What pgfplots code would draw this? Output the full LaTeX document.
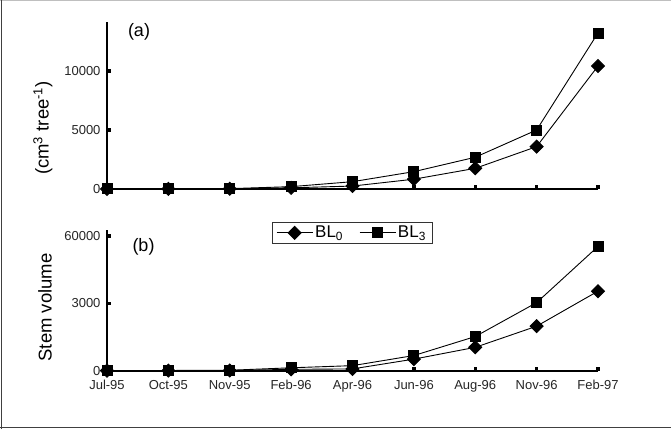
\documentclass[border=0pt]{standalone}
\usepackage{pgfplots}
\pgfplotsset{compat=1.18}
\usepackage{fontspec}
\setmainfont{Liberation Sans}
\begin{document}
\begin{tikzpicture}[x=1pt,y=1pt]
\useasboundingbox (0,0) rectangle (671,429);
\fill[white] (0,0) rectangle (671,429);
\draw[black!25, line width=1pt] (0,428.5) -- (671,428.5);
\draw[black!75, line width=1.2pt] (1.5,0) -- (1.5,429);
\draw[black!75, line width=1.2pt] (0,1.5) -- (671,1.5);

\pgfplotsset{
  myaxis/.style={
    scale only axis, width=491pt, anchor=south west,
    xmin=0, xmax=8, clip=false,
    axis x line*=bottom, axis y line*=left,
    axis line style={line width=2.4pt, -},
    xtick={0,...,8},
    scaled y ticks=false, scaled x ticks=false,
    tick align=inside, major tick length=4pt,
    tick style={line width=3.5pt, black},
    ticklabel style={font=\fontsize{13}{15}\selectfont, text=black!85},
    yticklabel style={xshift=-3pt},
    every axis plot/.append style={black, line width=0.9pt},
    legend image code/.code={\draw[mark repeat=2,mark phase=2] plot coordinates {(0pt,0pt)(18pt,0pt)(36pt,0pt)};},
  },
  dia/.style={mark=square*, mark size=4.6pt, mark options={rotate=45, solid, fill=black}},
  sq/.style={mark=square*, mark size=5pt, mark options={solid, fill=black}},
}

\begin{axis}[myaxis, at={(107pt,240pt)}, height=167pt,
  ymin=0, ymax=14150, ytick={0,5000,10000}, yticklabels={0,5000,10000},
  xticklabels={}]
\addplot[dia] coordinates {(0,5) (1,10) (2,20) (3,100) (4,250) (5,830) (6,1750) (7,3590) (8,10420)};
\addplot[sq] coordinates {(0,10) (1,20) (2,30) (3,200) (4,620) (5,1470) (6,2690) (7,5000) (8,13220)};
\end{axis}

\begin{axis}[myaxis, at={(107pt,58.3pt)}, height=140.7pt,
  ymin=0, ymax=6262, ytick={0,3000,6000}, yticklabels={0,3000,60000},
  xticklabels={Jul-95,Oct-95,Nov-95,Feb-96,Apr-96,Jun-96,Aug-96,Nov-96,Feb-97},
  xticklabel style={yshift=-6pt},
  legend columns=2,
  legend style={at={(rel axis cs:0.336,1.057)}, anchor=north west, draw=black!80, line width=0.6pt,
    font=\fontsize{17}{19}\selectfont, inner xsep=4pt, inner ysep=2pt,
    /tikz/every even column/.append style={column sep=14pt}}]
\addplot[dia] coordinates {(0,3) (1,5) (2,10) (3,60) (4,80) (5,515) (6,1040) (7,1980) (8,3540)};
\addplot[sq] coordinates {(0,5) (1,10) (2,20) (3,130) (4,225) (5,675) (6,1520) (7,3030) (8,5530)};
\legend{BL\textsubscript{0}, BL\textsubscript{3}}
\end{axis}

\node[rotate=90, font=\fontsize{18.5}{20}\selectfont] at (43,301) {(cm\textsuperscript{3} tree\textsuperscript{-1})};
\node[rotate=90, font=\fontsize{18.5}{20}\selectfont] at (45,121.5) {Stem volume};
\node[font=\fontsize{18}{20}\selectfont] at (139,397) {(a)};
\node[font=\fontsize{18}{20}\selectfont] at (143.5,182) {(b)};
\end{tikzpicture}
\end{document}
